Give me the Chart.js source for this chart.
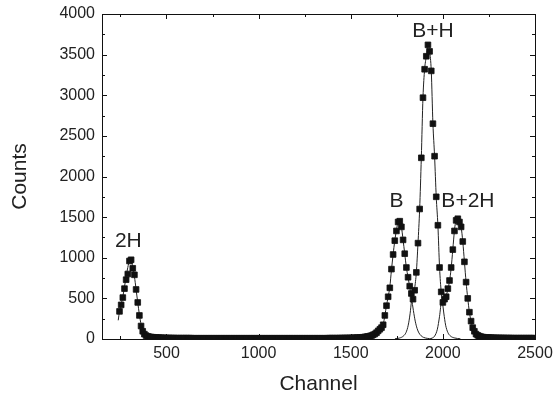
<!DOCTYPE html>
<html>
<head>
<meta charset="utf-8">
<script src="https://cdn.jsdelivr.net/npm/chart.js@4/dist/chart.umd.min.js"></script>
<style>
  body { margin: 0; background: #fff; }
</style>
</head>
<body>
<canvas id="spectrum" width="554" height="399"></canvas>
<script>
// measured spectrum (channel, counts)
var channels = [245,254,263,272,281,290,299,308,317,326,335,344,353,362,371,380,389,398,407,416,425,434,
    443,452,461,470,479,488,497,506,515,524,533,542,551,560,569,578,587,596,605,614,623,632,641,650,659,668,677,686,695,704,
    713,722,731,740,749,758,767,776,785,794,803,812,821,830,839,848,857,866,875,884,893,902,911,920,929,938,947,956,965,974,
    983,992,1001,1010,1019,1028,1037,1046,1055,1064,1073,1082,1091,1100,1109,1118,1127,1136,1145,1154,
    1163,1172,1181,1190,1199,1208,1217,1226,1235,1244,1253,1262,1271,1280,1289,1298,1307,1316,1325,1334,
    1343,1352,1361,1370,1379,1388,1397,1406,1415,1424,1433,1442,1451,1460,1469,1478,1487,1496,1505,1514,
    1523,1532,1541,1550,1559,1568,1577,1586,1595,1604,1613,1622,1631,1640,1649,1658,1667,1676,1685,1694,
    1703,1712,1721,1730,1739,1748,1757,1766,1775,1784,1793,1802,1811,1820,1829,1838,1847,1856,1865,1874,
    1883,1892,1901,1910,1919,1928,1937,1946,1955,1964,1973,1982,1991,2000,2009,2018,2027,2036,2045,2054,
    2063,2072,2081,2090,2099,2108,2117,2126,2135,2144,2153,2162,2171,2180,2189,2198,2207,2216,2225,2234,
    2243,2252,2261,2270,2279,2288,2297,2306,2315,2324,2333,2342,2351,2360,2369,2378,2387,2396,2405,2414,
    2423,2432,2441,2450,2459,2468,2477,2486,2495];
var counts = [340,420,510,620,730,800,960,975,870,790,610,450,290,160,95,60,42,32,27,24,22,20,
    18,17,16,15,14,13,13,12,12,11, 11,11,10,10,10,10,10,10,10,10, 10,10,9,9,9,9,9,9,9,9,
    9,9,9,9,9,9,9,9,9,9, 9,9,9,9,9,9,9,9,9,9, 9,9,9,9,9,9,9,9,9,9,
    9,9,9,9,9,9,9,9,9,9, 9,9,9,9,9,9,9,9,9,9, 9,9,9,9,9,9,9,9,9,9,
    9,9,9,9,9,9,9,9,9,9, 9,9,9,9,10,10,10,10,10,10, 10,11,11,11,12,12,12,13,13,14,
    15,16,17,18,20,22,25,28,32,36, 42,52,62,78,100,120,140,175,290,410,
    520,630,860,1040,1210,1330,1440,1450,1380,1220, 1050,880,760,650,560,490,600,820,1180,1600,
    2230,2970,3320,3480,3620,3540,3300,2650,2250,1750, 1400,880,580,450,490,520,620,720,880,1100,
    1330,1460,1480,1440,1380,1200,950,700,500,330, 220,140,95,60,45,35,28,24,21,19,
    18,17,16,15,14,14,13,13,12,12, 12,11,11,11,11,10,10,10,10,10,
    10,10,10,10,10,10,10,10,10];

// fitted peak components
var fit2H_ch = [238,245,254,263,272,281,290,299,308,317,326,335,344,353,362,371,380,392,405,420,440];
var fit2H = [230,340,425,520,640,770,880,960,970,890,770,610,450,300,180,105,60,30,15,8,4];
var fitB_ch = [1600,1620,1640,1660,1676,1685,1694,1703,1712,1721,1730,1739,1748,1757,1764,1775,1784,1793,1802,1811,1820,1830,1840,1850,1860,1870,1882,1895,1915,1940];
var fitB = [25,45,75,120,175,290,410,520,640,850,1040,1210,1340,1440,1460,1380,1220,1050,880,760,640,500,350,220,130,75,40,20,8,3];
var fitBH_ch = [1740,1765,1785,1800,1812,1822,1830,1838,1847,1856,1865,1874,1883,1892,1901,1910,1919,1928,1937,1946,1955,1964,1973,1982,1991,1997,2005,2015,2027,2042,2065,2095];
var fitBH = [3,12,35,80,170,310,470,560,630,820,1180,1600,2230,2970,3320,3480,3625,3540,3300,2650,2250,1750,1400,880,580,470,320,170,80,35,12,3];
var fitB2H_ch = [1935,1955,1970,1982,1993,2002,2011,2020,2029,2038,2047,2056,2065,2074,2081,2090,2099,2108,2117,2126,2135,2144,2153,2162,2171,2182,2195,2215,2245,2280];
var fitB2H = [5,35,120,280,470,490,510,550,630,740,920,1160,1380,1470,1485,1440,1380,1200,950,700,500,330,220,140,95,58,35,20,10,5];

// axis ticks
var xMajor = [500, 1000, 1500, 2000, 2500];
var xMinor = [250, 750, 1250, 1750, 2250];
var yMajor = [0, 500, 1000, 1500, 2000, 2500, 3000, 3500, 4000];
var yMinor = [250, 750, 1250, 1750, 2250, 2750, 3250, 3750];

// peak names and where they sit (channel, counts at text baseline)
var peakNames = ['2H', 'B', 'B+H', 'B+2H'];
var peakAt = [[293, 1129], [1748, 1628], [1946, 3720], [2136, 1628]];

function pts(xs, ys) {
    return xs.map(function (x, i) { return {x: x, y: ys[i]}; });
}

function fitLine(xs, ys) {
    return {
        data: pts(xs, ys),
        showLine: true,
        borderColor: '#222',
        borderWidth: 1,
        pointRadius: 0,
        cubicInterpolationMode: 'monotone',
        order: 2
    };
}

var frame = {
    id: 'frame',
    afterDatasetsDraw: function (chart) {
        var ctx = chart.ctx, a = chart.chartArea;
        var xs = chart.scales.x, ys = chart.scales.y;
        ctx.save();
        ctx.strokeStyle = '#111';
        ctx.lineWidth = 1;
        ctx.strokeRect(Math.round(a.left) + 0.5, Math.round(a.top) + 0.5,
            Math.round(a.right - a.left), Math.round(a.bottom - a.top));
        ctx.beginPath();
        function xt(v, len) {
            var p = Math.round(xs.getPixelForValue(v)) + 0.5;
            ctx.moveTo(p, a.bottom); ctx.lineTo(p, a.bottom - len);
            ctx.moveTo(p, a.top); ctx.lineTo(p, a.top + len);
        }
        function yt(v, len) {
            var p = Math.round(ys.getPixelForValue(v)) + 0.5;
            ctx.moveTo(a.left, p); ctx.lineTo(a.left + len, p);
            ctx.moveTo(a.right, p); ctx.lineTo(a.right - len, p);
        }
        xMajor.forEach(function (v) { xt(v, 5); });
        xMinor.forEach(function (v) { xt(v, 3); });
        yMajor.forEach(function (v) { yt(v, 5); });
        yMinor.forEach(function (v) { yt(v, 3); });
        ctx.stroke();

        ctx.fillStyle = '#222';
        ctx.font = '21px "Liberation Sans", Arial, sans-serif';
        ctx.textAlign = 'center';
        ctx.textBaseline = 'alphabetic';
        peakNames.forEach(function (t, i) {
            ctx.fillText(t, xs.getPixelForValue(peakAt[i][0]), ys.getPixelForValue(peakAt[i][1]));
        });
        ctx.restore();
    }
};

var plain = function (v) { return String(v); };

var ctx = document.getElementById('spectrum').getContext('2d');
var chart = new Chart(ctx, {
    type: 'scatter',
    data: {
        datasets: [{
            data: pts(channels, counts),
            pointStyle: 'rect',
            pointRadius: 4,
            backgroundColor: '#111',
            borderColor: '#111',
            borderWidth: 0.8,
            order: 1
        },
            fitLine(fit2H_ch, fit2H),
            fitLine(fitB_ch, fitB),
            fitLine(fitBH_ch, fitBH),
            fitLine(fitB2H_ch, fitB2H)
        ]
    },
    options: {
        responsive: false,
        animation: false,
        layout: {padding: {top: 14, right: 19, left: 0, bottom: 0}},
        plugins: {legend: {display: false}, tooltip: {enabled: false}},
        scales: {
            x: {
                type: 'linear',
                min: 150,
                max: 2500,
                grid: {display: false, drawTicks: false},
                border: {display: false},
                afterBuildTicks: function (s) { s.ticks = xMajor.map(function (v) { return {value: v}; }); },
                afterFit: function (s) {
                    s.height = 60;
                    s.paddingLeft = 0;
                    s.paddingRight = 0;
                },
                ticks: {
                    color: '#222',
                    padding: 5,
                    maxRotation: 0,
                    callback: plain,
                    font: {family: '"Liberation Sans", Arial, sans-serif', size: 16}
                },
                title: {
                    display: true,
                    text: 'Channel',
                    color: '#222',
                    padding: {top: 0, bottom: 2},
                    font: {family: '"Liberation Sans", Arial, sans-serif', size: 21}
                }
            },
            y: {
                min: 0,
                max: 4000,
                grid: {display: false, drawTicks: false},
                border: {display: false},
                afterBuildTicks: function (s) { s.ticks = yMajor.map(function (v) { return {value: v}; }); },
                afterFit: function (s) {
                    s.width = 102;
                    s.paddingTop = 0;
                    s.paddingBottom = 0;
                },
                ticks: {
                    color: '#222',
                    padding: 7,
                    callback: plain,
                    font: {family: '"Liberation Sans", Arial, sans-serif', size: 16}
                },
                title: {
                    display: true,
                    text: 'Counts',
                    color: '#222',
                    padding: {top: 8, bottom: 0},
                    font: {family: '"Liberation Sans", Arial, sans-serif', size: 21}
                }
            }
        }
    },
    plugins: [frame]
});
</script>
</body>
</html>
